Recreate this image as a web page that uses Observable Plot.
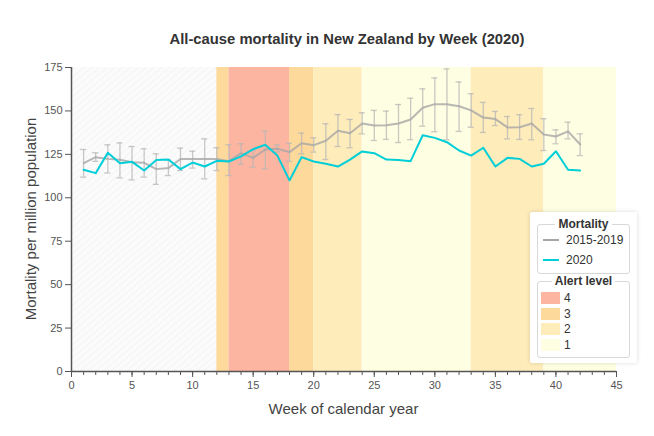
<!DOCTYPE html>
<html>
<head>
<meta charset="utf-8">
<script src="https://cdn.jsdelivr.net/npm/d3@7"></script>
<script src="https://cdn.jsdelivr.net/npm/@observablehq/plot@0.6"></script>
<style>
  body { margin: 0; background: #fff; font-family: "Liberation Sans", Arial, sans-serif; }
  #wrap { position: relative; width: 654px; height: 436px; overflow: hidden; }
  #title { position: absolute; left: 71px; width: 552px; top: 31px; text-align: center; font-weight: bold; font-size: 14.8px; color: #333; }
  #xlab { position: absolute; left: 71px; width: 545px; top: 400px; text-align: center; font-size: 15px; color: #444; }
  #ylab { position: absolute; left: 30px; top: 219px; transform: translate(-50%, -50%) rotate(-90deg); white-space: nowrap; font-size: 15px; color: #444; }
  #legend { position: absolute; left: 530px; top: 212px; width: 107px; height: 151px; background: #fff; box-shadow: 0 0 4px rgba(0,0,0,0.15); border-radius: 2px; }
  .fs { position: absolute; border: 1px solid #d8d8d8; border-radius: 3px; }
  .fs .t { position: absolute; top: -8px; left: 0; right: 0; text-align: center; font-weight: bold; font-size: 12px; color: #333; line-height: 14px; }
  .fs .t span { background: #fff; padding: 0 3px; }
  .item { position: absolute; font-size: 12px; color: #333; line-height: 14px; white-space: nowrap; }
  .sw { position: absolute; }
</style>
</head>
<body>
<div id="wrap">
  <div id="chart"></div>
  <div id="title"></div>
  <div id="xlab"></div>
  <div id="ylab"></div>
  <div id="legend"></div>
</div>
<script>
// ---- Data ----
const titleText = "All-cause mortality in New Zealand by Week (2020)";
const xLabel = "Week of calendar year";
const yLabel = "Mortality per million population";

const weeks = [1,2,3,4,5,6,7,8,9,10,11,12,13,14,15,16,17,18,19,20,21,22,23,24,25,26,27,28,29,30,31,32,33,34,35,36,37,38,39,40,41,42];
const mean1519 = [119.9,123.4,122.4,121.9,120.5,120.1,116.5,117.1,122.3,122.3,122.3,122.3,121.1,125.7,123.0,127.8,128.2,126.3,131.4,130.3,132.8,138.6,137.2,142.8,141.6,141.8,142.8,145.1,151.8,153.9,153.9,152.7,150.3,146.2,145.3,140.5,140.6,142.8,136.4,135.3,138.2,130.7];
const low1519  = [111.9,121.0,114.3,111.5,110.3,111.9,107.7,112.8,115.7,117.1,110.9,115.7,112.8,119.2,117.6,116.7,126.3,120.9,125.3,126.3,122.0,129.5,128.8,136.8,133.0,133.6,131.8,133.4,141.2,138.0,133.4,138.2,140.6,137.6,141.6,133.9,133.6,133.4,127.2,131.1,133.9,124.3];
const high1519 = [127.8,125.9,130.5,131.6,129.5,128.2,125.3,121.9,128.6,126.8,133.9,128.8,130.5,131.1,127.2,138.3,130.5,131.4,137.2,134.5,142.6,147.9,145.1,148.9,150.3,149.9,153.7,157.3,162.7,169.0,174.2,166.7,159.9,154.9,149.7,146.8,147.8,151.4,145.5,139.1,143.5,136.8];
const mort2020 = [116.1,114.2,125.9,119.9,120.7,115.7,121.7,122.0,116.5,120.3,118.0,121.3,120.9,123.8,128.0,130.5,124.3,110.0,123.4,120.9,119.6,118.0,122.0,126.7,125.7,122.0,121.7,121.1,136.0,134.5,132.0,127.2,124.3,128.8,118.0,123.0,122.4,118.0,119.6,126.8,116.1,115.7];

// Alert level periods (weeks); level 0 = before alert system
const bandStart = [0, 12, 13, 18, 20, 24, 33, 39];
const bandEnd   = [12, 13, 18, 20, 24, 33, 39, 45];
const bandLevel = [0, 3, 4, 3, 2, 1, 2, 1];

const levels = ["4", "3", "2", "1"];
const levelColors = {"4": "#fcb5a1", "3": "#fed99c", "2": "#feecbb", "1": "#fefee2"};
const seriesNames = ["2015-2019", "2020"];
const seriesColors = ["#a6a6a6", "#00cfd8"];

const xTicksMajor = [0,5,10,15,20,25,30,35,40,45];
const yTicks = [0,25,50,75,100,125,150,175];

// ---- Build tables ----
const series = weeks.map((w, i) => ({week: w, mean: mean1519[i], low: low1519[i], high: high1519[i], y2020: mort2020[i]}));
const bands = bandStart.map((s, i) => ({start: s, end: bandEnd[i], level: String(bandLevel[i])}));
const yTop = yTicks[yTicks.length - 1];

const chart = Plot.plot({
  width: 654,
  height: 436,
  marginLeft: 71,
  marginRight: 38,
  marginTop: 67,
  marginBottom: 65,
  x: {domain: [0, 45]},
  y: {domain: [0, yTop]},
  color: {type: "identity"},
  style: {fontFamily: "'Liberation Sans', Arial, sans-serif", fontSize: "11px", color: "#555", background: "transparent"},
  marks: [
    Plot.rect(bands.filter(d => d.level === "0"), {x1: "start", x2: "end", y1: 0, y2: yTop, fill: "#f8f8f8", className: "hatch"}),
    Plot.rect(bands.filter(d => d.level !== "0"), {x1: "start", x2: "end", y1: 0, y2: yTop, fill: d => levelColors[d.level]}),
    Plot.ruleX(series, {x: "week", y1: "low", y2: "high", stroke: "#b5b5b5", strokeWidth: 1.3, strokeOpacity: 0.75}),
    Plot.ruleY(series, {y: "low", x1: d => d.week - 0.25, x2: d => d.week + 0.25, stroke: "#b5b5b5", strokeWidth: 1.3, strokeOpacity: 0.75}),
    Plot.ruleY(series, {y: "high", x1: d => d.week - 0.25, x2: d => d.week + 0.25, stroke: "#b5b5b5", strokeWidth: 1.3, strokeOpacity: 0.75}),
    Plot.line(series, {x: "week", y: "mean", stroke: seriesColors[0], strokeWidth: 2, strokeOpacity: 0.8}),
    Plot.line(series, {x: "week", y: "y2020", stroke: seriesColors[1], strokeWidth: 2}),
    Plot.axisX({ticks: d3.range(0, 46), tickSize: 4, tickFormat: () => "", stroke: "#555", label: null}),
    Plot.axisX({ticks: xTicksMajor, tickSize: 6, tickPadding: 4, stroke: "#555", fill: "#555", label: null}),
    Plot.axisY({ticks: yTicks, tickSize: 6, tickPadding: 3, stroke: "#555", fill: "#555", label: null}),
    Plot.ruleY([0], {stroke: "#555", strokeWidth: 1.5}),
    Plot.ruleX([0], {y1: 0, y2: yTop, stroke: "#555", strokeWidth: 1.5})
  ]
});
document.getElementById("chart").appendChild(chart);

// hatch pattern for the pre-alert period
const svg = d3.select(chart);
const defs = svg.insert("defs", ":first-child");
const pat = defs.append("pattern").attr("id", "hatch").attr("patternUnits", "userSpaceOnUse")
  .attr("width", 5).attr("height", 5).attr("patternTransform", "rotate(-40)");
pat.append("rect").attr("width", 5).attr("height", 5).attr("fill", "#fbfbfb");
pat.append("line").attr("x1", 0).attr("y1", 0).attr("x2", 5).attr("y2", 0).attr("stroke", "#f1f1f1").attr("stroke-width", 1.4);
svg.selectAll(".hatch rect").attr("fill", "url(#hatch)");

document.getElementById("title").textContent = titleText;
document.getElementById("xlab").textContent = xLabel;
document.getElementById("ylab").textContent = yLabel;

// ---- Legend ----
const lg = document.getElementById("legend");
function box(top, height, title) {
  const f = document.createElement("div");
  f.className = "fs";
  f.style.left = "7px"; f.style.top = top + "px"; f.style.width = "91px"; f.style.height = height + "px";
  const t = document.createElement("div"); t.className = "t";
  const s = document.createElement("span"); s.textContent = title; t.appendChild(s);
  f.appendChild(t);
  lg.appendChild(f);
  return f;
}
box(12, 48, "Mortality");
seriesNames.forEach((n, i) => {
  const y = 28 + i * 20;
  const sw = document.createElement("div"); sw.className = "sw";
  sw.style.left = "13px"; sw.style.top = (y - 1) + "px"; sw.style.width = "16px"; sw.style.height = "2px";
  sw.style.background = seriesColors[i];
  lg.appendChild(sw);
  const it = document.createElement("div"); it.className = "item";
  it.style.left = "36px"; it.style.top = (y - 7) + "px"; it.textContent = n;
  lg.appendChild(it);
});
box(69, 75, "Alert level");
levels.forEach((l, i) => {
  const y = 86 + i * 15.5;
  const sw = document.createElement("div"); sw.className = "sw";
  sw.style.left = "11px"; sw.style.top = (y - 6) + "px"; sw.style.width = "19px"; sw.style.height = "12px";
  sw.style.background = levelColors[l];
  lg.appendChild(sw);
  const it = document.createElement("div"); it.className = "item";
  it.style.left = "34px"; it.style.top = (y - 7) + "px"; it.textContent = l;
  lg.appendChild(it);
});
</script>
</body>
</html>
